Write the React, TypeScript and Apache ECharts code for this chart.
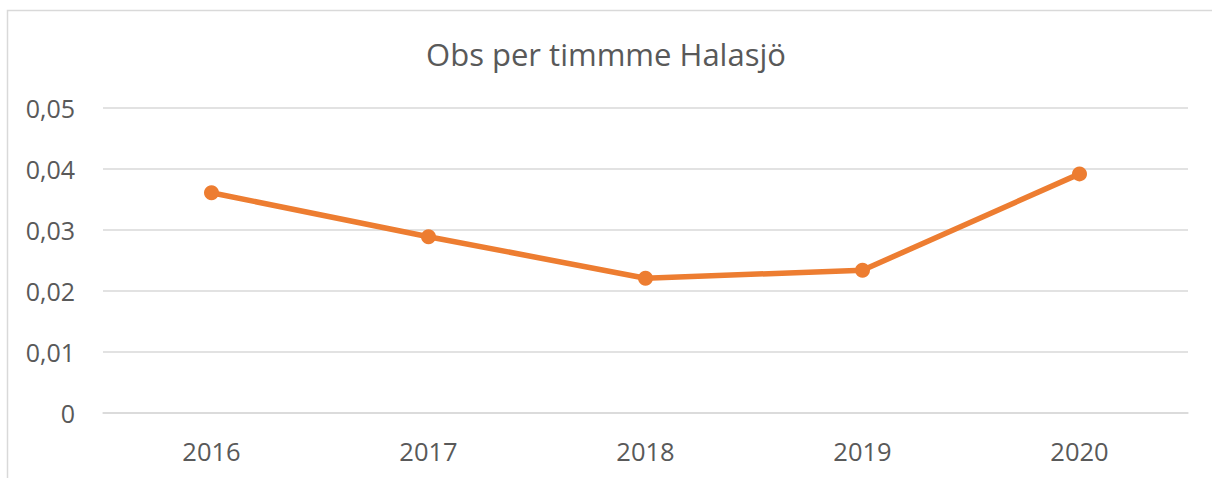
import React, { useEffect, useRef } from "react";
import * as echarts from "echarts";

const categories = ["2016", "2017", "2018", "2019", "2020"];
const obsPerHour = [0.0361, 0.0289, 0.0221, 0.0234, 0.0392];
const titleText = "Obs per timmme Halasjö";

export default function App() {
  const ref = useRef<HTMLDivElement>(null);
  useEffect(() => {
    if (!ref.current) return;
    const chart = echarts.init(ref.current, null, { renderer: "svg" });
    chart.setOption({
      animation: false,
      backgroundColor: "#ffffff",
      title: {
        text: titleText,
        left: "center",
        top: 33,
        textStyle: {
          fontFamily: "Open Sans",
          fontSize: 31,
          fontWeight: "normal",
          color: "#595959",
        },
      },
      graphic: [
        {
          type: "rect",
          shape: { x: 7.5, y: 10.5, width: 1300, height: 600 },
          style: { fill: "none", stroke: "#d9d9d9", lineWidth: 1.5 },
          silent: true,
        },
      ],
      grid: { left: 103, right: 24, top: 108, bottom: 65 },
      xAxis: {
        type: "category",
        data: categories,
        boundaryGap: true,
        axisLine: { show: true, lineStyle: { color: "#d9d9d9", width: 1.5 } },
        axisTick: { show: false },
        axisLabel: {
          margin: 25,
          fontFamily: "Open Sans",
          fontSize: 25.5,
          color: "#595959",
        },
      },
      yAxis: {
        type: "value",
        min: 0,
        max: 0.05,
        interval: 0.01,
        axisLine: { show: false },
        axisTick: { show: false },
        splitLine: { lineStyle: { color: "#d9d9d9", width: 1.5 } },
        axisLabel: {
          margin: 28,
          fontFamily: "Open Sans",
          fontSize: 25,
          color: "#595959",
          formatter: (v: number) =>
            v === 0 ? "0" : v.toFixed(2).replace(".", ","),
        },
      },
      series: [
        {
          type: "line",
          data: obsPerHour,
          symbol: "circle",
          symbolSize: 15,
          lineStyle: { color: "#ED7D31", width: 5.5 },
          itemStyle: { color: "#ED7D31" },
        },
      ],
    });
    return () => chart.dispose();
  }, []);
  return (
    <div
      ref={ref}
      style={{ position: "fixed", left: 0, top: 0, width: 1212, height: 478 }}
    />
  );
}
